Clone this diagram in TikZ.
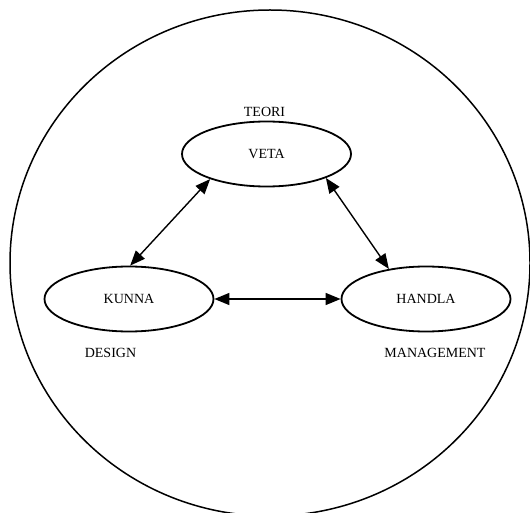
\documentclass[tikz,border=0pt]{standalone}
\usepackage{fontspec}
\setmainfont{Liberation Serif}
\usetikzlibrary{arrows.meta,shapes.geometric}

\tikzset{
  txt/.style={font=\fontsize{14bp}{17bp}\selectfont, inner sep=0pt},
  topic/.style={txt, draw, line width=1.8bp, ellipse,
    minimum width=169bp, minimum height=65bp},
  link/.style={line width=1.4bp,
    {Triangle[length=15bp,width=12bp]}-{Triangle[length=15bp,width=12bp]}},
}

\begin{document}
\begin{tikzpicture}[x=1bp,y=-1bp]
  \useasboundingbox (0,0) rectangle (530,513);
  \clip (0,0) rectangle (530,513);

  % surrounding frame
  \draw[line width=1.5bp] (270,263) ellipse [x radius=260, y radius=253];

  % the three activities
  \node[topic] (veta)   at (266.5,154) {VETA};
  \node[topic] (kunna)  at (129,299)   {KUNNA};
  \node[topic] (handla) at (426,299)   {HANDLA};

  % captions
  \node[txt] (teori)  at (264.5,112) {TEORI};
  \node[txt] (design) at (110.5,353) {DESIGN};
  \node[txt] (mgmt)   at (435,353)   {MANAGEMENT};

  % two-way relations
  \draw[link] (veta.204) -- (kunna.88);
  \draw[link] (veta.338) -- (handla.141);
  \draw[link] (kunna.east) -- (handla.west);
\end{tikzpicture}
\end{document}
